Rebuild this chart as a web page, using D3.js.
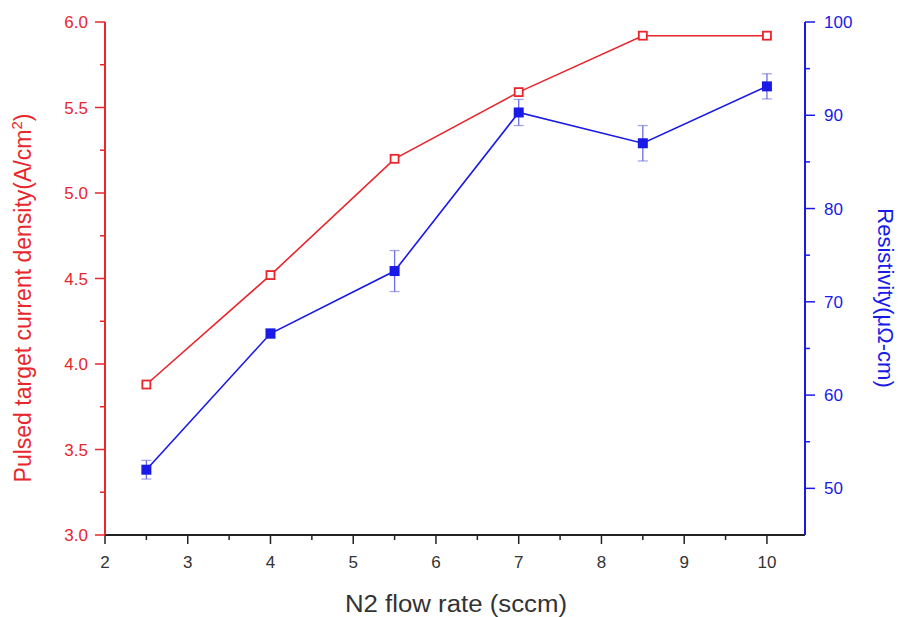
<!DOCTYPE html>
<html>
<head>
<meta charset="utf-8">
<script src="https://cdn.jsdelivr.net/npm/d3@7"></script>
<style>
  html, body { margin: 0; padding: 0; background: #fff; }
  svg text { font-family: "Liberation Sans", Arial, sans-serif; }
</style>
</head>
<body>
<svg id="chart" width="900" height="617"></svg>
<script>
// N2 flow rate (sccm)
const flowRate = [2.5, 4, 5.5, 7, 8.5, 10];
// Pulsed target current density (A/cm^2)
const currentDensity = [3.88, 4.52, 5.20, 5.59, 5.92, 5.92];
// Resistivity (μΩ·cm) and its error bars
const resistivity = [52.0, 66.6, 73.3, 90.3, 87.0, 93.1];
const resistivityErr = [1.0, 0.5, 2.2, 1.4, 1.9, 1.35];

const xTicks = [2, 3, 4, 5, 6, 7, 8, 9, 10];
const leftTicks = [3.0, 3.5, 4.0, 4.5, 5.0, 5.5, 6.0];
const rightTicks = [50, 60, 70, 80, 90, 100];

const RED = "#e8262c";
const BLUE = "#1a1ae6";
const AXIS = "#222";

const svg = d3.select("#chart");
const plotL = 105, plotR = 805, plotT = 22, plotB = 535;

const x = d3.scaleLinear().domain([2, 10.46]).range([plotL, plotR]);
const yL = d3.scaleLinear().domain([3, 6]).range([plotB, plotT]);
const yR = d3.scaleLinear().domain([45, 100]).range([plotB, plotT]);

// X axis: major ticks at integers, minor at halves
const xAxis = svg.append("g").attr("transform", `translate(0,${plotB})`);
xAxis.append("line").attr("x1", plotL).attr("x2", plotR).attr("y1", 0).attr("y2", 0)
  .attr("stroke", AXIS).attr("stroke-width", 2);
const xMinor = d3.range(2.5, 10.5, 1);
xAxis.selectAll(".xmin").data(xMinor).join("line")
  .attr("x1", d => x(d)).attr("x2", d => x(d)).attr("y1", 0).attr("y2", 5)
  .attr("stroke", AXIS).attr("stroke-width", 1.5);
xAxis.selectAll(".xmaj").data(xTicks).join("line")
  .attr("x1", d => x(d)).attr("x2", d => x(d)).attr("y1", 0).attr("y2", 9)
  .attr("stroke", AXIS).attr("stroke-width", 1.5);
xAxis.selectAll(".xlab").data(xTicks).join("text")
  .attr("x", d => x(d)).attr("y", 33).attr("text-anchor", "middle")
  .attr("font-size", 17).attr("fill", "#333").text(d => d);
svg.append("text").attr("x", 456).attr("y", 612).attr("text-anchor", "middle")
  .attr("font-size", 23).attr("fill", "#333")
  .attr("textLength", 222).attr("lengthAdjust", "spacingAndGlyphs")
  .text("N2 flow rate (sccm)");

// Left axis (current density)
const gL = svg.append("g");
gL.append("line").attr("x1", plotL).attr("x2", plotL).attr("y1", plotT).attr("y2", plotB)
  .attr("stroke", RED).attr("stroke-width", 2);
const lMinor = d3.range(3.25, 6, 0.5);
gL.selectAll(".lmin").data(lMinor).join("line")
  .attr("x1", plotL - 5).attr("x2", plotL).attr("y1", d => yL(d)).attr("y2", d => yL(d))
  .attr("stroke", RED).attr("stroke-width", 1.5);
gL.selectAll(".lmaj").data(leftTicks).join("line")
  .attr("x1", plotL - 10).attr("x2", plotL).attr("y1", d => yL(d)).attr("y2", d => yL(d))
  .attr("stroke", RED).attr("stroke-width", 1.5);
gL.selectAll(".llab").data(leftTicks).join("text")
  .attr("x", plotL - 17).attr("y", d => yL(d) + 6).attr("text-anchor", "end")
  .attr("font-size", 17).attr("fill", RED).text(d => d.toFixed(1));
const lTitle = gL.append("text")
  .attr("transform", `translate(31,${298}) rotate(-90)`)
  .attr("text-anchor", "middle").attr("font-size", 23).attr("fill", RED);
lTitle.append("tspan").text("Pulsed target current density(A/cm");
lTitle.append("tspan").attr("font-size", 15).attr("dy", -9).text("2");
lTitle.append("tspan").attr("dy", 9).text(")");

// Right axis (resistivity)
const gR = svg.append("g");
gR.append("line").attr("x1", plotR).attr("x2", plotR).attr("y1", plotT).attr("y2", plotB)
  .attr("stroke", BLUE).attr("stroke-width", 2);
const rMinor = d3.range(55, 100, 10);
gR.selectAll(".rmin").data(rMinor).join("line")
  .attr("x1", plotR).attr("x2", plotR + 5).attr("y1", d => yR(d)).attr("y2", d => yR(d))
  .attr("stroke", BLUE).attr("stroke-width", 1.5);
gR.selectAll(".rmaj").data(rightTicks).join("line")
  .attr("x1", plotR).attr("x2", plotR + 10).attr("y1", d => yR(d)).attr("y2", d => yR(d))
  .attr("stroke", BLUE).attr("stroke-width", 1.5);
gR.selectAll(".rlab").data(rightTicks).join("text")
  .attr("x", plotR + 19).attr("y", d => yR(d) + 6).attr("text-anchor", "start")
  .attr("font-size", 17).attr("fill", BLUE).text(d => d);
gR.append("text")
  .attr("transform", `translate(878,${298}) rotate(90)`)
  .attr("text-anchor", "middle").attr("font-size", 22).attr("fill", BLUE)
  .text("Resistivity(μΩ-cm)");

// Current density series
const ptsL = flowRate.map((f, i) => [x(f), yL(currentDensity[i])]);
svg.append("path").attr("d", d3.line()(ptsL))
  .attr("fill", "none").attr("stroke", RED).attr("stroke-width", 1.6);
svg.selectAll(".mL").data(ptsL).join("rect")
  .attr("x", d => d[0] - 4).attr("y", d => d[1] - 4).attr("width", 8).attr("height", 8)
  .attr("fill", "#fff").attr("stroke", RED).attr("stroke-width", 1.8);

// Resistivity series with error bars
const ptsR = flowRate.map((f, i) => [x(f), yR(resistivity[i])]);
svg.append("path").attr("d", d3.line()(ptsR))
  .attr("fill", "none").attr("stroke", BLUE).attr("stroke-width", 1.6);
const eb = svg.selectAll(".eb").data(flowRate).join("g");
eb.append("line")
  .attr("x1", d => x(d)).attr("x2", d => x(d))
  .attr("y1", (d, i) => yR(resistivity[i] + resistivityErr[i]))
  .attr("y2", (d, i) => yR(resistivity[i] - resistivityErr[i]))
  .attr("stroke", "#4a4ae0").attr("stroke-width", 1.3).attr("opacity", 0.8);
[1, -1].forEach(s => {
  eb.append("line")
    .attr("x1", d => x(d) - 5).attr("x2", d => x(d) + 5)
    .attr("y1", (d, i) => yR(resistivity[i] + s * resistivityErr[i]))
    .attr("y2", (d, i) => yR(resistivity[i] + s * resistivityErr[i]))
    .attr("stroke", "#6a6ae0").attr("stroke-width", 1.3).attr("opacity", 0.6);
});
svg.selectAll(".mR").data(ptsR).join("rect")
  .attr("x", d => d[0] - 5).attr("y", d => d[1] - 5).attr("width", 10).attr("height", 10)
  .attr("fill", BLUE);
</script>
</body>
</html>
